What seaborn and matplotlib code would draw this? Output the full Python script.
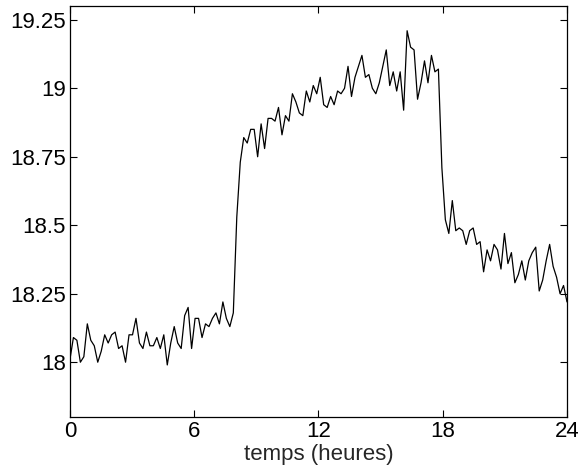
import numpy as np
import pandas as pd
import matplotlib
matplotlib.use('Agg')
import matplotlib.pyplot as plt
import seaborn as sns

# Température relevée toutes les ~10 minutes sur 24 heures
temperature = [
    18.01, 18.09, 18.08, 18.00, 18.02, 18.14, 18.08, 18.06, 18.00, 18.04,
    18.10, 18.07, 18.10, 18.11, 18.05, 18.06, 18.00, 18.10, 18.10, 18.16,
    18.07, 18.05, 18.11, 18.06, 18.06, 18.09, 18.05, 18.10, 17.99, 18.07,
    18.13, 18.07, 18.05, 18.17, 18.20, 18.05, 18.16, 18.16, 18.09, 18.14,
    18.13, 18.16, 18.18, 18.14, 18.22, 18.16, 18.13, 18.18,
    18.53, 18.73, 18.82, 18.80, 18.85, 18.85, 18.75, 18.87, 18.78, 18.89,
    18.89, 18.88, 18.93, 18.83, 18.90, 18.88, 18.98, 18.95, 18.91, 18.90,
    18.99, 18.95, 19.01, 18.98, 19.04, 18.94, 18.93, 18.97, 18.94, 18.99,
    18.98, 19.00, 19.08, 18.97, 19.04, 19.08, 19.12, 19.04, 19.05, 19.00,
    18.98, 19.02, 19.08, 19.14, 19.01, 19.06, 18.99, 19.06, 18.92, 19.21,
    19.15, 19.14, 18.96, 19.02, 19.10, 19.02, 19.12, 19.06, 19.07,
    18.71, 18.52, 18.47, 18.59, 18.48, 18.49, 18.48, 18.43, 18.48, 18.49,
    18.43, 18.44, 18.33, 18.41, 18.37, 18.43, 18.41, 18.34, 18.47, 18.36,
    18.40, 18.29, 18.32, 18.37, 18.30, 18.37, 18.40, 18.42, 18.26, 18.30,
    18.37, 18.43, 18.35, 18.31, 18.25, 18.28, 18.22,
]
duree = 24  # heures
x_ticks = [0, 6, 12, 18, 24]
y_ticks = [18, 18.25, 18.5, 18.75, 19, 19.25]
y_labels = ['18', '18.25', '18.5', '18.75', '19', '19.25']

df = pd.DataFrame({
    'temps': np.linspace(0, duree, len(temperature)),
    'temperature': temperature,
})

sns.set_theme(style="ticks")
plt.rcParams['font.family'] = ['Liberation Sans', 'DejaVu Sans']

fig = plt.figure(figsize=(5.78, 4.68), dpi=100)
ax = fig.add_axes([0.121, 0.109, 0.86, 0.878])

sns.lineplot(data=df, x='temps', y='temperature', ax=ax,
             color='black', linewidth=0.9)

ax.set_xlim(0, 24)
ax.set_ylim(17.8, 19.3)
ax.set_xticks(x_ticks)
ax.set_xticklabels([str(t) for t in x_ticks])
ax.set_yticks(y_ticks)
ax.set_yticklabels(y_labels)
ax.tick_params(direction='in', top=True, right=True, length=5,
               width=0.8, labelsize=16, colors='black', pad=3)
ax.set_xlabel('temps (heures)', fontsize=16, labelpad=1)
ax.set_ylabel('')
for s in ax.spines.values():
    s.set_visible(True)
    s.set_color('black')
    s.set_linewidth(0.9)

fig.savefig('out.png', dpi=100)
